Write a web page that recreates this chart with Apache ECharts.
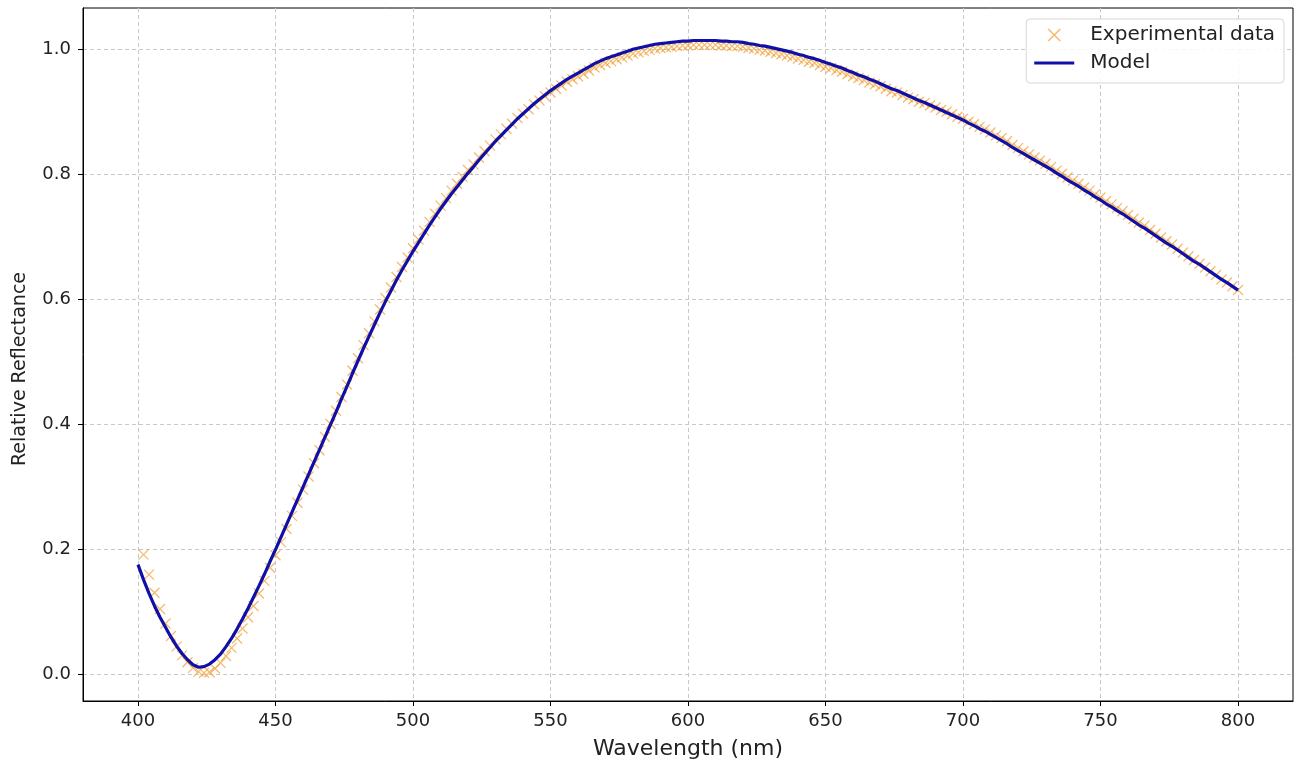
<!DOCTYPE html>
<html>
<head>
<meta charset="utf-8">
<script src="https://cdn.jsdelivr.net/npm/echarts@6/dist/echarts.min.js"></script>
<style>
html,body{margin:0;padding:0;background:#fff;}
#chart{width:1301px;height:767px;}
</style>
</head>
<body>
<div id="chart"></div>
<script>
const xTicks = [400, 450, 500, 550, 600, 650, 700, 750, 800];
const yTicks = [0.0, 0.2, 0.4, 0.6, 0.8, 1.0];

const modelWavelengths = [
400,402,404,406,408,410,412,414,416,418,420,422,424,426,428,430,432,434,436,438,
440,442,444,446,448,450,452,454,456,458,460,462,464,466,468,470,472,474,476,478,
480,482,484,486,488,490,492,494,496,498,500,502,504,506,508,510,512,514,516,518,
520,522,524,526,528,530,532,534,536,538,540,542,544,546,548,550,552,554,556,558,
560,562,564,566,568,570,572,574,576,578,580,582,584,586,588,590,592,594,596,598,
600,602,604,606,608,610,612,614,616,618,620,622,624,626,628,630,632,634,636,638,
640,642,644,646,648,650,652,654,656,658,660,662,664,666,668,670,672,674,676,678,
680,682,684,686,688,690,692,694,696,698,700,702,704,706,708,710,712,714,716,718,
720,722,724,726,728,730,732,734,736,738,740,742,744,746,748,750,752,754,756,758,
760,762,764,766,768,770,772,774,776,778,780,782,784,786,788,790,792,794,796,798,
800];

const modelValues = [
0.176,0.152,0.130,0.110,0.092,0.076,0.060,0.046,0.034,0.024,0.016,0.012,0.013,0.017,0.024,0.033,0.045,0.058,0.073,0.089,
0.106,0.124,0.142,0.161,0.181,0.200,0.220,0.240,0.260,0.280,0.300,0.320,0.340,0.360,0.380,0.400,0.420,0.441,0.461,0.482,
0.502,0.522,0.541,0.560,0.579,0.597,0.614,0.631,0.647,0.662,0.677,0.691,0.705,0.719,0.732,0.745,0.757,0.769,0.780,0.791,
0.802,0.812,0.823,0.833,0.843,0.853,0.862,0.871,0.880,0.889,0.897,0.905,0.913,0.920,0.927,0.934,0.940,0.946,0.952,0.957,
0.962,0.967,0.972,0.977,0.981,0.985,0.988,0.991,0.994,0.997,1.000,1.002,1.004,1.006,1.008,1.009,1.010,1.011,1.012,1.013,
1.013,1.014,1.014,1.014,1.014,1.014,1.013,1.013,1.012,1.012,1.011,1.009,1.008,1.006,1.005,1.003,1.001,0.999,0.997,0.995,
0.992,0.990,0.987,0.985,0.982,0.979,0.976,0.973,0.970,0.966,0.963,0.959,0.956,0.952,0.949,0.945,0.941,0.937,0.934,0.930,
0.926,0.922,0.918,0.915,0.911,0.907,0.903,0.899,0.895,0.891,0.887,0.882,0.878,0.873,0.869,0.864,0.859,0.854,0.849,0.843,
0.838,0.833,0.828,0.823,0.818,0.813,0.808,0.802,0.797,0.791,0.786,0.781,0.775,0.770,0.764,0.759,0.753,0.748,0.742,0.737,
0.731,0.725,0.719,0.714,0.708,0.702,0.696,0.690,0.685,0.679,0.673,0.667,0.661,0.656,0.650,0.644,0.638,0.632,0.627,0.621,
0.615];

const expWavelengths = modelWavelengths.slice(1);

const expValues = [
0.192,0.160,0.131,0.105,0.082,0.062,0.045,0.031,0.020,0.011,0.005,0.003,0.004,0.010,0.019,0.030,0.043,0.058,0.074,
0.092,0.110,0.130,0.150,0.171,0.191,0.212,0.233,0.254,0.275,0.296,0.317,0.338,0.359,0.380,0.401,0.422,0.444,0.464,0.486,
0.506,0.527,0.546,0.565,0.584,0.602,0.619,0.636,0.652,0.667,0.682,0.696,0.710,0.724,0.737,0.750,0.762,0.774,0.785,0.796,
0.807,0.816,0.827,0.837,0.846,0.856,0.864,0.873,0.881,0.890,0.897,0.904,0.912,0.918,0.925,0.931,0.937,0.942,0.948,0.952,
0.957,0.961,0.966,0.971,0.975,0.978,0.981,0.984,0.987,0.990,0.993,0.995,0.997,0.999,1.001,1.002,1.003,1.004,1.005,1.006,
1.006,1.007,1.007,1.007,1.007,1.007,1.006,1.006,1.005,1.005,1.004,1.002,1.001,0.999,0.998,0.996,0.994,0.992,0.990,0.988,
0.985,0.983,0.980,0.978,0.975,0.972,0.970,0.967,0.964,0.960,0.957,0.954,0.951,0.947,0.944,0.941,0.937,0.933,0.931,0.927,
0.923,0.920,0.916,0.914,0.910,0.907,0.903,0.900,0.896,0.892,0.889,0.884,0.880,0.876,0.872,0.867,0.862,0.858,0.853,0.847,
0.842,0.837,0.832,0.827,0.822,0.817,0.812,0.806,0.801,0.795,0.790,0.785,0.779,0.774,0.768,0.763,0.757,0.752,0.746,0.741,
0.735,0.729,0.723,0.718,0.711,0.705,0.699,0.693,0.688,0.681,0.675,0.669,0.663,0.657,0.651,0.645,0.639,0.632,0.627,0.621,
0.615];

const expData = expWavelengths.map((w, i) => [w, expValues[i]]);
const modelData = modelWavelengths.map((w, i) => [w, modelValues[i]]);

const FONT = 'DejaVu Sans';
const chart = echarts.init(document.getElementById('chart'), null, {renderer: 'canvas'});

const xMark = 'path://M0,0L10,10M0,10L10,0';
const expColor = 'rgba(240,150,30,0.82)';
const modelColor = '#1010a8';

chart.setOption({
  animation: false,
  backgroundColor: '#ffffff',
  textStyle: {fontFamily: FONT},
  grid: {
    left: 83, top: 8, right: 8, bottom: 66,
    outerBoundsMode: 'none', containLabel: false,
    show: true, borderColor: '#000', borderWidth: 1, backgroundColor: 'transparent'
  },
  legend: {
    right: 17, top: 19,
    orient: 'vertical', align: 'left',
    itemWidth: 40, itemHeight: 12,
    itemGap: 8,
    padding: [6, 9, 10, 8],
    backgroundColor: 'rgba(255,255,255,0.85)',
    borderColor: '#d6d6d6', borderWidth: 1, borderRadius: 4,
    textStyle: {fontFamily: FONT, fontSize: 20, lineHeight: 20, color: '#222', padding: [0, 0, 0, 11]},
    data: [
      {name: 'Experimental data', icon: xMark,
       itemStyle: {color: 'rgba(0,0,0,0)', borderColor: expColor, borderWidth: 1.5}},
      {name: 'Model', icon: 'path://M0,0L100,0L100,8L0,8Z', itemStyle: {color: modelColor, borderWidth: 0}}
    ]
  },
  graphic: [{
    type: 'text', x: 20, y: 369, rotation: Math.PI / 2,
    style: {text: 'Relative Reflectance', fontFamily: FONT, fontSize: 19, fill: '#222',
      align: 'center', verticalAlign: 'middle'}
  }],
  xAxis: {
    type: 'value', min: 380, max: 820,
    name: 'Wavelength (nm)', nameLocation: 'middle', nameGap: 37,
    nameTextStyle: {fontFamily: FONT, fontSize: 22, color: '#222'},
    axisLine: {show: true, onZero: false, lineStyle: {color: '#000', width: 1}},
    axisTick: {show: true, length: 5, customValues: xTicks, lineStyle: {color: '#000'}},
    axisLabel: {customValues: xTicks, fontFamily: FONT, fontSize: 18, color: '#222', margin: 11},
    splitLine: {show: true, lineStyle: {color: '#c8c8c8', type: [4, 3], width: 1}}
  },
  yAxis: {
    type: 'value', min: -0.042, max: 1.066,
    axisLine: {show: true, onZero: false, lineStyle: {color: '#000', width: 1}},
    axisTick: {show: true, length: 5, customValues: yTicks, lineStyle: {color: '#000'}},
    axisLabel: {customValues: yTicks, fontFamily: FONT, fontSize: 18, color: '#222', margin: 12,
      formatter: v => v.toFixed(1)},
    splitLine: {show: true, lineStyle: {color: '#c8c8c8', type: [4, 3], width: 1}}
  },
  series: [
    {
      name: 'Experimental data', type: 'scatter',
      data: expData,
      symbol: xMark, symbolSize: 10,
      itemStyle: {color: 'rgba(0,0,0,0)', borderColor: expColor, borderWidth: 1.3},
      z: 2
    },
    {
      name: 'Model', type: 'line',
      data: modelData,
      showSymbol: false, symbol: 'none',
      lineStyle: {color: modelColor, width: 3.2},
      itemStyle: {color: modelColor},
      z: 3
    }
  ]
});
</script>
</body>
</html>
